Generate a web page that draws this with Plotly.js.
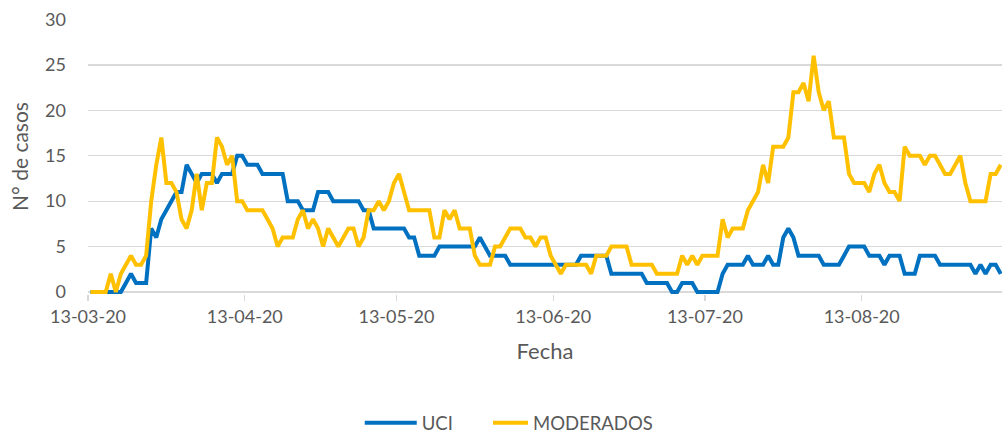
<!DOCTYPE html>
<html>
<head>
<meta charset="utf-8">
<script src="https://cdn.plot.ly/plotly-3.0.1.min.js"></script>
<style>html,body{margin:0;padding:0;background:#fff;}#chart{width:1002px;height:435px;}</style>
</head>
<body>
<div id="chart"></div>
<script>
// First day of the series and daily values (one per day)
const startDate = '2020-03-13';

const uci = [
0,0,0,0,0,0,0,1,2,1,
1,1,7,6,8,9,10,11,11,14,
13,12,13,13,13,12,13,13,13,15,
15,14,14,14,13,13,13,13,13,10,
10,10,9,9,9,11,11,11,10,10,
10,10,10,10,9,9,7,7,7,7,
7,7,7,6,6,4,4,4,4,5,
5,5,5,5,5,5,5,6,5,4,
4,4,4,3,3,3,3,3,3,3,
3,3,3,3,3,3,3,4,4,4,
4,4,4,2,2,2,2,2,2,2,
1,1,1,1,1,0,0,1,1,1,
0,0,0,0,0,2,3,3,3,3,
4,3,3,3,4,3,3,6,7,6,
4,4,4,4,4,3,3,3,3,4,
5,5,5,5,4,4,4,3,4,4,
4,2,2,2,4,4,4,4,3,3,
3,3,3,3,3,2,3,2,3,3,
2
];

const moderados = [
0,0,0,0,2,0,2,3,4,3,
3,4,10,14,17,12,12,11,8,7,
9,13,9,12,12,17,16,14,15,10,
10,9,9,9,9,8,7,5,6,6,
6,8,9,7,8,7,5,7,6,5,
6,7,7,5,6,9,9,10,9,10,
12,13,11,9,9,9,9,9,6,6,
9,8,9,7,7,7,4,3,3,3,
5,5,6,7,7,7,6,6,5,6,
6,4,3,2,3,3,3,3,3,2,
4,4,4,5,5,5,5,3,3,3,
3,3,2,2,2,2,2,4,3,4,
3,4,4,4,4,8,6,7,7,7,
9,10,11,14,12,16,16,16,17,22,
22,23,21,26,22,20,21,17,17,17,
13,12,12,12,11,13,14,12,11,11,
10,16,15,15,15,14,15,15,14,13,
13,14,15,12,10,10,10,10,13,13,
14
];

const seriesNames = ['UCI', 'MODERADOS'];
const seriesColors = ['#0070C0', '#FFC000'];
const yTicks = [0, 5, 10, 15, 20, 25, 30];

// consecutive calendar days for the x axis
function dayList(start, n) {
  const p = start.split('-').map(Number);
  const out = [];
  for (let i = 0; i < n; i++) {
    const d = new Date(Date.UTC(p[0], p[1] - 1, p[2] + i));
    out.push(d.toISOString().slice(0, 10));
  }
  return out;
}
const fechas = dayList(startDate, uci.length);

const font = 'Lato, "Open Sans", sans-serif';
const grey = '#595959';
const legendIds = ['legend', 'legend2'];

const traces = [uci, moderados].map((vals, i) => ({
  type: 'scatter',
  mode: 'lines',
  x: fechas,
  y: vals,
  xperiod: 86400000,
  xperiodalignment: 'middle',
  name: seriesNames[i],
  legend: legendIds[i],
  line: {color: seriesColors[i], width: 4, shape: 'linear'},
  hoverinfo: 'x+y+name'
}));

function legendAt(xLeft) {
  return {
    orientation: 'h',
    xref: 'container', yref: 'container',
    x: xLeft, xanchor: 'left',
    y: 0.027, yanchor: 'middle',
    font: {family: font, size: 18.5, color: grey},
    bgcolor: 'rgba(0,0,0,0)'
  };
}

const layout = {
  width: 1002,
  height: 435,
  margin: {l: 88.3, r: 0, t: 19, b: 140.5, pad: 0, autoexpand: false},
  paper_bgcolor: '#ffffff',
  plot_bgcolor: '#ffffff',
  font: {family: font, size: 18, color: grey},
  showlegend: true,
  legend: legendAt(0.381),
  legend2: legendAt(0.492),
  xaxis: {
    type: 'date',
    automargin: false,
    range: ['2020-03-13', '2020-09-09 18:00'],
    tick0: startDate,
    dtick: 'M1',
    tickformat: '%d-%m-%y',
    ticks: 'outside',
    ticklen: 6,
    tickwidth: 1.3,
    tickcolor: '#d9d9d9',
    showgrid: false,
    showline: false,
    zeroline: false,
    tickfont: {family: font, size: 18, color: grey},
    title: {text: 'Fecha', font: {family: font, size: 22, color: grey}, standoff: 18}
  },
  yaxis: {
    automargin: false,
    range: [-0.22, 30.05],
    tickvals: yTicks,
    ticks: '',
    ticklabelstandoff: 21,
    showgrid: true,
    gridcolor: '#d9d9d9',
    gridwidth: 1.3,
    zeroline: true,
    zerolinecolor: '#d9d9d9',
    zerolinewidth: 1.3,
    showline: false,
    tickfont: {family: font, size: 18, color: grey},
    title: {text: 'N° de casos', font: {family: font, size: 21, color: grey}, standoff: 10}
  }
};

function longLegendLines(gd) {
  // Excel-style longer legend line samples (no clipping at the legend box edge)
  gd.querySelectorAll('.legend, .legend .scrollbox, .legend .groups').forEach(el => el.removeAttribute('clip-path'));
  gd.querySelectorAll('.legendlines path').forEach(p => {
    p.setAttribute('d', 'M-17,0h52');
    p.style.strokeLinecap = 'butt';
  });
}

const gdiv = document.getElementById('chart');
Plotly.newPlot(gdiv, traces, layout, {displayModeBar: false, staticPlot: true}).then(gd => {
  longLegendLines(gd);
  gd.on('plotly_afterplot', () => longLegendLines(gd));
  setTimeout(() => longLegendLines(gd), 50);
  setTimeout(() => longLegendLines(gd), 300);
});
</script>
</body>
</html>
